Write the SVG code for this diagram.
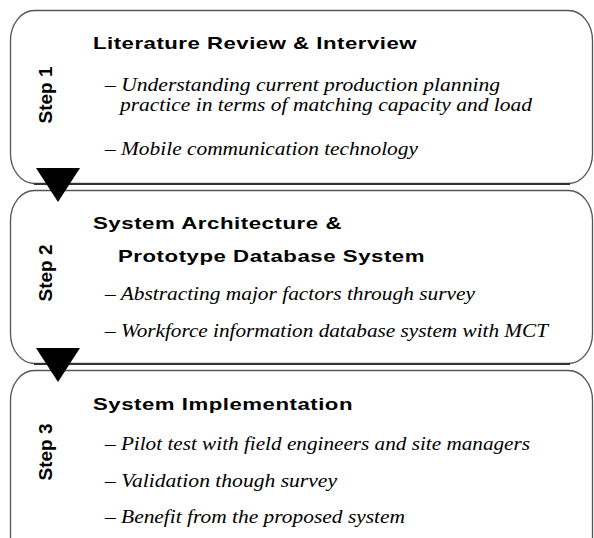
<svg xmlns="http://www.w3.org/2000/svg" width="594" height="538" viewBox="0 0 594 538">
<style>
.box{fill:#fff;stroke:#555;stroke-width:1.3}
.shadow{fill:none;stroke:#333;stroke-width:2}
.step{font-family:"Liberation Sans",Arial,sans-serif;font-weight:bold;font-size:19px;fill:#000;text-anchor:middle}
.title{font-family:"Liberation Sans",Arial,sans-serif;font-weight:bold;font-size:17px;fill:#000;letter-spacing:0.4px}
.item{font-family:"Liberation Serif","Times New Roman",serif;font-style:italic;font-size:19.5px;fill:#000}
.arrow{fill:#000}
</style>
<rect width="594" height="538" fill="#fff"/>
<g id="step1">
<rect class="box" x="10.5" y="10.5" width="582" height="173" rx="24" ry="30"/>
<text class="step" transform="translate(52,95) rotate(-90)">Step 1</text>
<text class="title" x="93" y="49" textLength="324" lengthAdjust="spacingAndGlyphs">Literature Review &amp; Interview</text>
<text class="item" x="105" y="91" textLength="395" lengthAdjust="spacingAndGlyphs">– Understanding current production planning</text>
<text class="item" x="120" y="111" textLength="412" lengthAdjust="spacingAndGlyphs">practice in terms of matching capacity and load</text>
<text class="item" x="105" y="155" textLength="313" lengthAdjust="spacingAndGlyphs">– Mobile communication technology</text>
</g>
<g id="step2">
<rect class="box" x="10.5" y="190.5" width="582" height="173" rx="24" ry="30"/>
<text class="step" transform="translate(52,273) rotate(-90)">Step 2</text>
<text class="title" x="93" y="229" textLength="249" lengthAdjust="spacingAndGlyphs">System Architecture &amp;</text>
<text class="title" x="118" y="262" textLength="307" lengthAdjust="spacingAndGlyphs">Prototype Database System</text>
<text class="item" x="105" y="300" textLength="370" lengthAdjust="spacingAndGlyphs">– Abstracting major factors through survey</text>
<text class="item" x="105" y="337" textLength="443" lengthAdjust="spacingAndGlyphs">– Workforce information database system with MCT</text>
</g>
<g id="step3">
<rect class="box" x="10.5" y="370.5" width="582" height="200" rx="24" ry="30"/>
<text class="step" transform="translate(52,452) rotate(-90)">Step 3</text>
<text class="title" x="93" y="410" textLength="260" lengthAdjust="spacingAndGlyphs">System Implementation</text>
<text class="item" x="105" y="450" textLength="425" lengthAdjust="spacingAndGlyphs">– Pilot test with field engineers and site managers</text>
<text class="item" x="105" y="487" textLength="232" lengthAdjust="spacingAndGlyphs">– Validation though survey</text>
<text class="item" x="105" y="523" textLength="300" lengthAdjust="spacingAndGlyphs">– Benefit from the proposed system</text>
</g>
<g id="connectors">
<line class="shadow" x1="34" y1="184" x2="570" y2="184"/>
<line class="shadow" x1="34" y1="364" x2="570" y2="364"/>
<polygon class="arrow" points="36,168 80,168 58,202"/>
<polygon class="arrow" points="36,348 80,348 58,382"/>
</g>
</svg>
